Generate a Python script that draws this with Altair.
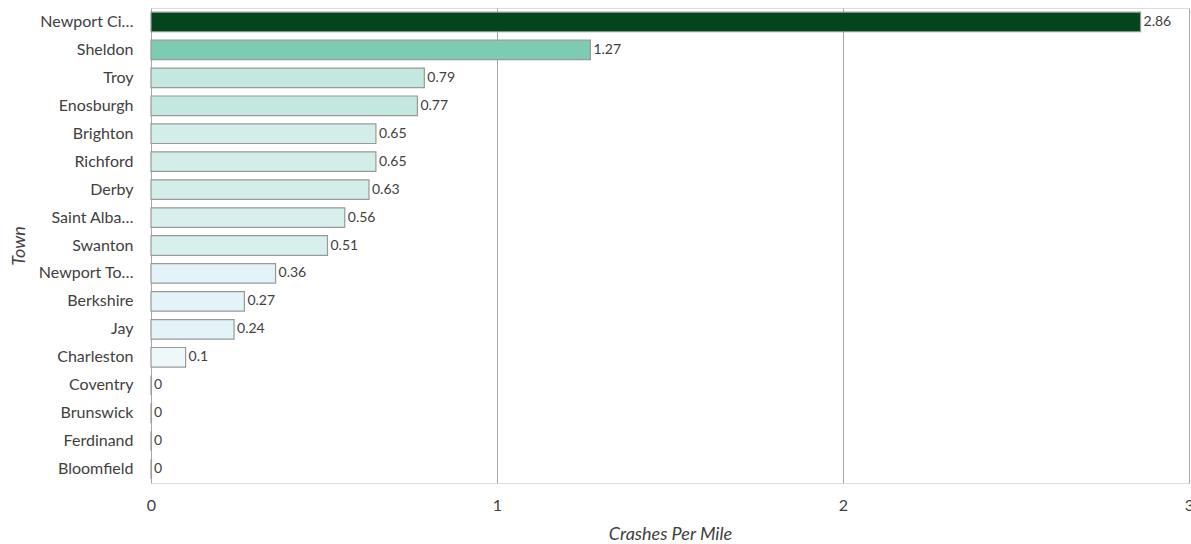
import altair as alt
import pandas as pd

towns = ["Newport City", "Sheldon", "Troy", "Enosburgh", "Brighton", "Richford", "Derby",
         "Saint Albans City", "Swanton", "Newport Town", "Berkshire", "Jay", "Charleston",
         "Coventry", "Brunswick", "Ferdinand", "Bloomfield"]
values = [2.86, 1.27, 0.79, 0.77, 0.65, 0.65, 0.63, 0.56, 0.51, 0.36, 0.27, 0.24, 0.1,
          0, 0, 0, 0]
x_ticks = [0, 1, 2, 3]

color_thresholds = [0.2, 0.4, 0.6, 0.7, 1.0, 2.0]
color_range = ["#EEF8F8", "#E4F3F7", "#D7F0EE", "#D3EDE8", "#C4E8DF", "#7CCBB2", "#03461E"]

df = pd.DataFrame({"Town": towns, "Crashes": values})

FONT = "Lato"
TXT = "#404040"

y_enc = alt.Y("Town:N", sort=towns, title="Town",
              scale=alt.Scale(paddingInner=0.3, paddingOuter=0.15),
              axis=alt.Axis(labelFont=FONT, labelFontSize=16, labelColor=TXT, labelLimit=200,
                            labelExpr="length(datum.label) > 10 ? slice(datum.label, 0, 10) + '…' : datum.label",
                            labelPadding=18, ticks=False, domain=False,
                            titleFont=FONT, titleFontSize=18, titleFontStyle="italic",
                            titleFontWeight="normal", titleColor=TXT, titlePadding=9))

x_enc = alt.X("Crashes:Q", title="Crashes Per Mile",
              scale=alt.Scale(domain=[0, 3], nice=False),
              axis=alt.Axis(values=x_ticks, format="d", labelFont=FONT, labelFontSize=16,
                            labelColor=TXT, labelPadding=14, labelFlush=False,
                            ticks=False, domain=False,
                            grid=True, gridColor="#A6A6A6", gridWidth=1,
                            titleFont=FONT, titleFontSize=18, titleFontStyle="italic",
                            titleFontWeight="normal", titleColor=TXT, titlePadding=12))

bars = alt.Chart(df).mark_bar(stroke="#999999", strokeWidth=1.2).encode(
    x=x_enc, y=y_enc,
    color=alt.Color("Crashes:Q", legend=None,
                    scale=alt.Scale(type="threshold", domain=color_thresholds, range=color_range)),
)

labels = alt.Chart(df).mark_text(align="left", baseline="middle", dx=3, font=FONT,
                                 fontSize=14, color=TXT).encode(
    x="Crashes:Q", y=alt.Y("Town:N", sort=towns),
    text=alt.Text("Crashes:Q"),
)

chart = (bars + labels).properties(
    width=1038, height=475,
    autosize=alt.AutoSizeParams(type="none"),
    padding={"left": 151, "top": 8, "right": 2, "bottom": 61},
).configure_view(stroke=None).configure(background="white")

chart.save("out.html", embed_options={"renderer": "svg", "actions": False})
